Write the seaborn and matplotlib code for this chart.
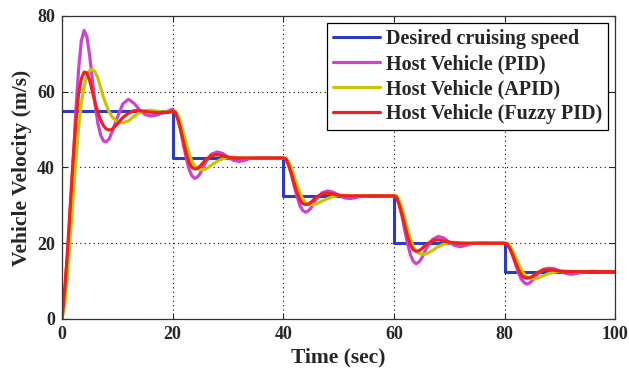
import matplotlib
matplotlib.use("Agg")
import matplotlib.pyplot as plt
import seaborn as sns
import pandas as pd

# ---------------- data ----------------
desired_t = [0, 20, 40, 60, 80, 100]
desired_v = [55, 42.5, 32.5, 20, 12.5, 12.5]

time = [0, 0.5, 1, 1.5, 2, 2.5, 3, 3.5, 4, 4.5, 5, 5.5, 6, 6.5, 7, 7.5, 8, 8.5,
        9, 10, 11, 12, 13, 14, 15, 16, 17, 18, 19,
        20, 20.5, 21, 21.5, 22, 22.5, 23, 23.5, 24, 24.5, 25, 25.5, 26, 27, 28, 29, 30, 31, 32, 33, 34, 36, 38,
        40, 40.5, 41, 41.5, 42, 42.5, 43, 43.5, 44, 44.5, 45, 45.5, 46, 47, 48, 49, 50, 51, 52, 53, 54, 56, 58,
        60, 60.5, 61, 61.5, 62, 62.5, 63, 63.5, 64, 64.5, 65, 65.5, 66, 67, 68, 69, 70, 71, 72, 73, 74, 76, 78,
        80, 80.5, 81, 81.5, 82, 82.5, 83, 83.5, 84, 84.5, 85, 85.5, 86, 87, 88, 89, 90, 91, 92, 93, 94, 96, 98,
        100]

pid = [0, 7, 17, 29, 41, 55, 66, 73.5, 76.2, 74.5, 69.5, 63, 56.5, 51.5, 48.5, 47, 46.8, 47.5,
       49.2, 53.2, 56.8, 58, 57, 55.2, 54, 53.6, 53.8, 54.3, 54.8,
       55.4, 54.6, 52.5, 49.4, 45.6, 42.25, 39.4, 37.75, 37.1, 37.5, 38.5, 40.0, 41.5, 43.5, 44.1, 43.75, 42.75, 41.9, 41.6, 41.9, 42.4, 42.6, 42.5,
       42.5, 42.2, 40.5, 38.0, 35.0, 32.3, 30.0, 28.7, 28.2, 28.5, 29.3, 30.5, 31.7, 33.3, 33.8, 33.5, 32.7, 32.0, 31.8, 32.0, 32.4, 32.6, 32.5,
       32.5, 32.1, 30.0, 26.9, 23.1, 19.75, 16.9, 15.25, 14.6, 15.0, 16.0, 17.5, 19.0, 21.0, 21.8, 21.4, 20.25, 19.4, 19.1, 19.4, 19.9, 20.1, 20.0,
       20.0, 19.8, 18.5, 16.6, 14.4, 12.35, 10.6, 9.65, 9.2, 9.5, 10.1, 11.0, 11.9, 13.1, 13.4, 13.25, 12.65, 12.1, 11.8, 12.0, 12.4, 12.6, 12.5,
       12.5]

apid = [0, 4, 12, 22, 32, 42, 50.5, 57, 61.5, 64.3, 65.6, 65.9, 65.2, 63.5, 61, 58.5, 56.5, 54.8,
        53.5, 52, 51.8, 52.3, 53.5, 54.5, 55, 55.1, 54.9, 54.7, 54.6,
        54.8, 54.8, 53.75, 51.5, 48.75, 46.0, 43.5, 41.6, 40.4, 39.75, 39.4, 39.4, 39.6, 40.6, 41.6, 42.25, 42.6, 42.75, 42.6, 42.5, 42.5, 42.5, 42.5,
        42.5, 42.5, 41.5, 39.7, 37.5, 35.3, 33.3, 31.8, 30.8, 30.4, 30.2, 30.2, 30.4, 31.1, 31.8, 32.3, 32.6, 32.7, 32.6, 32.5, 32.5, 32.5, 32.5,
        32.5, 32.5, 31.25, 29.0, 26.25, 23.5, 21.0, 19.1, 17.9, 17.4, 17.1, 17.1, 17.3, 18.1, 19.1, 19.75, 20.1, 20.25, 20.1, 20.0, 20.0, 20.0, 20.0,
        20.0, 20.0, 19.25, 17.9, 16.25, 14.6, 13.1, 12.0, 11.2, 10.85, 10.6, 10.6, 10.8, 11.4, 12.0, 12.35, 12.6, 12.65, 12.6, 12.5, 12.5, 12.5, 12.5,
        12.5]

fuzzy = [0, 8, 18, 30, 42, 52, 59.5, 63.5, 65.2, 65, 63, 60, 57, 54.5, 52.5, 51, 50.2, 49.9,
         50, 51.5, 53.2, 54.3, 55, 55, 54.8, 54.6, 54.5, 54.5, 54.5,
         54.8, 54.6, 52.5, 49.75, 46.5, 43.5, 41.25, 40.0, 39.6, 39.75, 40.4, 41.25, 42.1, 43.1, 43.4, 43.1, 42.75, 42.5, 42.5, 42.5, 42.5, 42.5, 42.5,
         42.5, 42.2, 40.5, 38.3, 35.7, 33.3, 31.5, 30.5, 30.2, 30.3, 30.8, 31.5, 32.2, 33.0, 33.2, 33.0, 32.7, 32.5, 32.5, 32.5, 32.5, 32.5, 32.5,
         32.5, 32.1, 30.0, 27.5, 24.5, 21.7, 19.5, 18.3, 17.9, 18.0, 18.5, 19.2, 19.8, 20.7, 20.9, 20.6, 20.3, 20.1, 20.0, 20.0, 20.0, 20.0, 20.0,
         20.0, 19.8, 18.5, 16.85, 14.9, 13.1, 11.75, 11.0, 10.8, 10.85, 11.2, 11.75, 12.3, 12.9, 13.0, 12.9, 12.65, 12.5, 12.5, 12.5, 12.5, 12.5, 12.5,
         12.5]

labels = ["Desired cruising speed", "Host Vehicle (PID)",
          "Host Vehicle (APID)", "Host Vehicle (Fuzzy PID)"]
colors = ["#2b3cc0", "#cc44cc", "#c8c400", "#ee2020"]

# ---------------- plotting ----------------
sns.set_theme(style="ticks")
plt.rcParams["font.family"] = ["Liberation Serif", "DejaVu Serif"]
plt.rcParams["font.weight"] = "bold"

fig = plt.figure(figsize=(6.29, 3.72), dpi=100)
ax = fig.add_axes([0.0986, 0.1425, 0.8794, 0.8145])

df_des = pd.DataFrame({"t": desired_t, "v": desired_v})
sns.lineplot(data=df_des, x="t", y="v", ax=ax, color=colors[0], lw=2.2,
             drawstyle="steps-post", estimator=None, sort=False, label=labels[0])

for vals, lab, col in zip([pid, apid, fuzzy], labels[1:], colors[1:]):
    d = pd.DataFrame({"t": time, "v": vals})
    sns.lineplot(data=d, x="t", y="v", ax=ax, color=col, lw=2.3,
                 estimator=None, sort=False, label=lab)

ax.set_xlim(0, 100)
ax.set_ylim(0, 80)
ax.set_xticks([0, 20, 40, 60, 80, 100])
ax.set_yticks([0, 20, 40, 60, 80])
ax.grid(True, color="black", linestyle=(0, (1, 3)), linewidth=0.8)
ax.tick_params(direction="in", top=True, right=True, length=4, width=0.8,
               labelsize=13, pad=5)
for lab in ax.get_xticklabels() + ax.get_yticklabels():
    lab.set_fontweight("bold")
for s in ax.spines.values():
    s.set_visible(True)
    s.set_color("#333333")
    s.set_linewidth(0.9)

ax.set_xlabel("Time (sec)", fontsize=15.5, fontweight="bold", labelpad=3)
ax.set_ylabel("Vehicle Velocity (m/s)", fontsize=15.5, fontweight="bold", labelpad=4)

leg = ax.legend(loc="upper right", bbox_to_anchor=(0.987, 0.977), fontsize=14.5,
                frameon=True, fancybox=False, edgecolor="black", framealpha=1,
                handlelength=2.3, handletextpad=0.3, borderpad=0.3,
                labelspacing=0.25, borderaxespad=0)
leg.get_frame().set_linewidth(0.9)
for t in leg.get_texts():
    t.set_fontweight("bold")

fig.savefig("out.png", dpi=100)
